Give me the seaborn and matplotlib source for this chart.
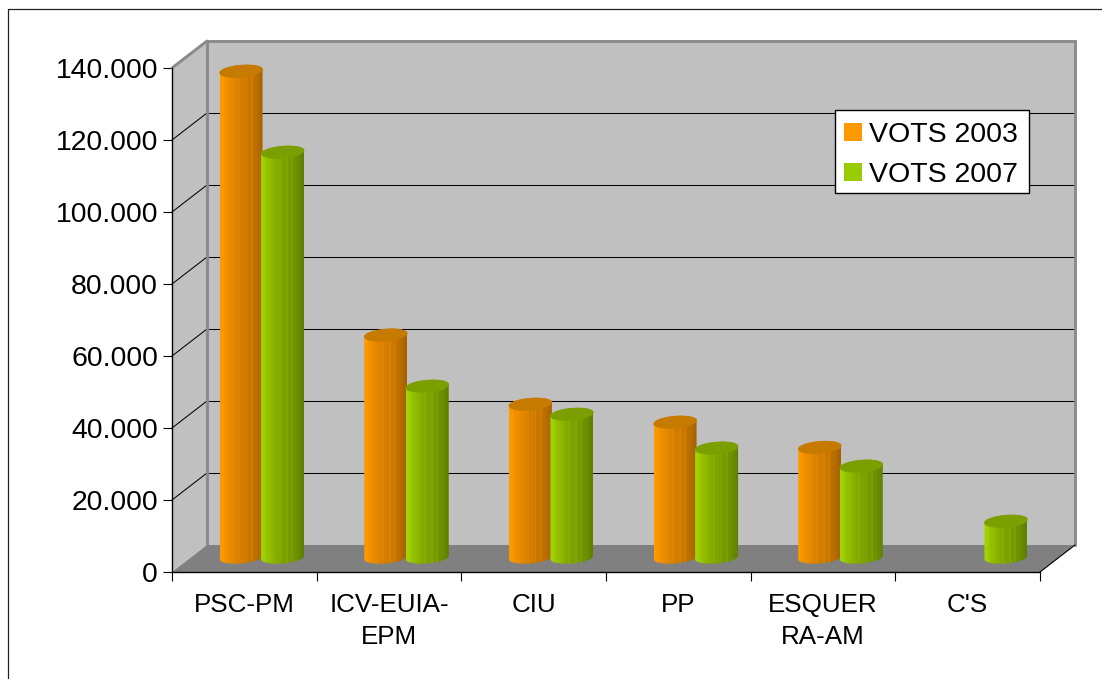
"""Votes per party, 2003 and 2007, drawn as a fake-3D cylinder chart."""

import numpy as np
import pandas as pd
import matplotlib.pyplot as plt
import seaborn as sns
from matplotlib.colors import LinearSegmentedColormap
from matplotlib.lines import Line2D
from matplotlib.patches import Patch, Polygon, Rectangle
from matplotlib.path import Path
from matplotlib.ticker import FuncFormatter

CATEGORIES = ["PSC-PM", "ICV-EUIA-\nEPM", "CIU", "PP", "ESQUER\nRA-AM", "C'S"]
VOTS_2003 = [135100, 61800, 42600, 37600, 30600, np.nan]
VOTS_2007 = [112600, 47600, 39800, 30400, 25400, 10100]
SERIES = ["VOTS 2003", "VOTS 2007"]
YTICKS = [0, 20000, 40000, 60000, 80000, 100000, 120000, 140000]

W, H = 1102, 679
LEFT, RIGHT, TOP, BOTTOM = 172, 1040, 68, 572
YMAX = 140000
PX_X = (len(CATEGORIES)) / (RIGHT - LEFT)   # category units per pixel
PX_Y = YMAX / (BOTTOM - TOP)                # value units per pixel
DX, DY = 35 * PX_X, 27 * PX_Y               # depth of the box

# lighter bands mimic the stepped shading of the original cylinders
SHADE = [0.0, 0.04, 0.1, 0.2, 0.24, 0.3, 0.36, 0.42, 0.46, 0.5, 0.46, 0.56,
         0.58, 0.62, 0.52, 0.68, 0.7, 0.62, 0.76, 0.8, 0.84, 0.88, 0.94, 1.0]
BODY = {
    "VOTS 2003": ("#ff9900", "#dc8400", "#a66200"),
    "VOTS 2007": ("#a2d400", "#84aa00", "#5e7f00"),
}
CAP = {"VOTS 2003": "#c67a00", "VOTS 2007": "#7c9f00"}
LEGEND_COLORS = {"VOTS 2003": "#ff9900", "VOTS 2007": "#99cc00"}

sns.set_theme(style="white")
plt.rcParams["font.family"] = ["Liberation Sans", "DejaVu Sans"]


def ellipse(cx, cy, a):
    t = np.linspace(0, 2 * np.pi, 80)
    x = cx + a * np.cos(t)
    y = cy + 6.0 * PX_Y * np.sin(t) + 1.7 * PX_Y * np.cos(t)
    return t, x, y


def draw_cylinder(ax, bar, name, z):
    h = bar.get_height()
    if not h > 0:
        return
    bar.set_visible(False)
    cx = bar.get_x() + bar.get_width() / 2 + DX / 2
    a = 21.5 * PX_X
    y0 = DY / 2 + PX_Y
    y1 = y0 + h

    t, xb, yb = ellipse(cx, y0, a)
    lower = t >= np.pi
    _, xt, yt = ellipse(cx, y1, a)
    upper = t <= np.pi
    outline = np.r_[np.c_[xb[lower], yb[lower]], np.c_[xt[upper], yt[upper]]]

    cmap = LinearSegmentedColormap.from_list(name, BODY[name])
    im = ax.imshow(np.array([SHADE]), cmap=cmap, vmin=0, vmax=1, aspect="auto",
                   extent=(cx - a, cx + a, y0 - 8 * PX_Y, y1 + 8 * PX_Y),
                   interpolation="nearest", zorder=z)
    im.set_clip_path(Path(outline, closed=False), transform=ax.transData)
    im.set_clip_box(ax.figure.bbox)

    ax.add_patch(Polygon(np.c_[xt, yt], closed=True, facecolor=CAP[name], clip_on=False,
                         edgecolor=CAP[name], linewidth=0.4, zorder=z + 0.1))


def main():
    df = pd.DataFrame({
        "party": CATEGORIES * 2,
        "serie": [SERIES[0]] * len(CATEGORIES) + [SERIES[1]] * len(CATEGORIES),
        "vots": VOTS_2003 + VOTS_2007,
    })

    fig = plt.figure(figsize=(W / 100, H / 100), dpi=100, facecolor="white")
    ax = fig.add_axes([LEFT / W, 1 - BOTTOM / H, (RIGHT - LEFT) / W, (BOTTOM - TOP) / H])
    ax.patch.set_visible(False)

    sns.barplot(data=df, x="party", y="vots", hue="serie", order=CATEGORIES,
                hue_order=SERIES, width=0.574, gap=0, errorbar=None, saturation=1,
                legend=False, ax=ax)

    x0, x1 = -0.5, len(CATEGORIES) - 0.5

    # box: side wall, back wall, floor
    wall = dict(facecolor="#c0c0c0", edgecolor="none", clip_on=False, zorder=0.5)
    ax.add_patch(Polygon([(x0, 0), (x0 + DX, DY), (x0 + DX, YMAX + DY), (x0, YMAX)], **wall))
    ax.add_patch(Polygon([(x0 + DX, DY), (x1 + DX, DY), (x1 + DX, YMAX + DY), (x0 + DX, YMAX + DY)], **wall))
    ax.add_patch(Polygon([(x0, 0), (x1, 0), (x1 + DX, DY), (x0 + DX, DY)],
                         facecolor="#808080", edgecolor="none", clip_on=False, zorder=0.8))

    for v in YTICKS[1:-1]:
        ax.plot([x0, x0 + DX], [v, v + DY], color="black", lw=0.75, clip_on=False, zorder=0.7)
        ax.plot([x0 + DX, x1 + DX], [v + DY, v + DY], color="black", lw=0.75,
                clip_on=False, zorder=0.7, snap=True)

    frame = dict(color="#8a8a8a", lw=2.1, clip_on=False, zorder=0.75, solid_joinstyle="miter")
    ax.plot([x0 + DX, x0 + DX, x1 + DX, x1 + DX], [DY, YMAX + DY, YMAX + DY, DY], **frame)
    ax.plot([x0, x0 + DX], [YMAX, YMAX + DY], **frame)
    ax.plot([x1, x1 + DX], [0, DY], color="black", lw=0.8, clip_on=False, zorder=0.9)

    for i, (container, name) in enumerate(zip(ax.containers, SERIES)):
        for bar in container:
            draw_cylinder(ax, bar, name, 3 + i)

    ax.set_xlim(x0, x1)
    ax.set_ylim(0, YMAX)
    ax.set_xlabel("")
    ax.set_ylabel("")
    ax.set_yticks(YTICKS)
    ax.yaxis.set_major_formatter(FuncFormatter(lambda v, _: f"{v:,.0f}".replace(",", ".")))
    ax.set_xticks(np.arange(x0, x1 + 1), minor=True)
    ax.tick_params(axis="y", left=True, length=6.5, width=0.8, pad=3.5, labelsize=20.4,
                   color="black", labelcolor="black")
    ax.tick_params(axis="x", which="major", bottom=False, pad=9, labelsize=18.7, labelcolor="black")
    ax.tick_params(axis="x", which="minor", bottom=True, length=6.5, width=0.8, color="black")
    for label in ax.get_xticklabels():
        label.set_linespacing(1.42)

    for side in ["top", "right"]:
        ax.spines[side].set_visible(False)
    for side in ["left", "bottom"]:
        ax.spines[side].set_color("black")
        ax.spines[side].set_linewidth(1.0)
        ax.spines[side].set_zorder(2)

    # legend frame is separate so the side and top padding can differ
    ax.add_patch(Rectangle(((835 - LEFT) / (RIGHT - LEFT), (BOTTOM - 193) / (BOTTOM - TOP)),
                           194 / (RIGHT - LEFT), 83 / (BOTTOM - TOP), transform=ax.transAxes,
                           facecolor="white", edgecolor="black", linewidth=1.0, zorder=9))
    handles = [Patch(facecolor=LEGEND_COLORS[s], edgecolor="none", label=s) for s in SERIES]
    leg = ax.legend(handles=handles, loc="upper left",
                    bbox_to_anchor=((844 - LEFT) / (RIGHT - LEFT), (BOTTOM - 122) / (BOTTOM - TOP)),
                    borderaxespad=0, fontsize=20.5, frameon=False, labelcolor="black",
                    handlelength=0.63, handleheight=0.63, handletextpad=0.25,
                    labelspacing=0.49, borderpad=0)
    leg.set_zorder(10)

    # outer chart border only shows on the left and top
    fig.add_artist(Line2D([7.5 / W, 7.5 / W, 1], [0, 1 - 9 / H, 1 - 9 / H], color="#222222", lw=0.9))

    fig.savefig("out.png", dpi=100)


if __name__ == "__main__":
    main()
